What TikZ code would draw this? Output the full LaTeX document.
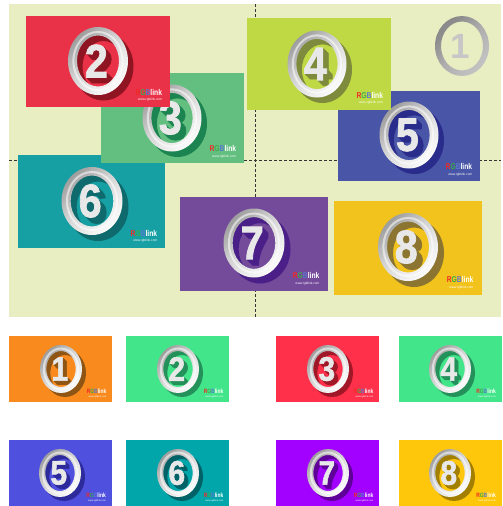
\documentclass[tikz,border=0pt]{standalone}
\usepackage{fontspec}
\setmainfont{Liberation Sans}
\newfontface\digitfont{Liberation Sans Bold}[FakeStretch=0.88,FakeBold=1.6]
\newfontface\logofont{Liberation Sans Bold}[FakeStretch=0.8]
\definecolor{paper}{HTML}{E9EDC2}
\definecolor{logoR}{HTML}{F02A24}
\definecolor{logoG}{HTML}{3DAA4A}
\definecolor{logoB}{HTML}{5A78D0}
\definecolor{HTMLteal}{HTML}{17A0A3}\definecolor{tealdark}{HTML}{0E6A6C}
\definecolor{HTMLgreen}{HTML}{63BF80}\definecolor{greendark}{HTML}{1C8450}
\definecolor{HTMLred}{HTML}{E93148}\definecolor{reddark}{HTML}{8E1521}
\definecolor{HTMLblue}{HTML}{4955A6}\definecolor{bluedark}{HTML}{2A2C8C}
\definecolor{HTMLlime}{HTML}{BFD945}\definecolor{limedark}{HTML}{7E8A3C}
\definecolor{HTMLpurple}{HTML}{744A9A}\definecolor{purpledark}{HTML}{4A1F88}
\definecolor{HTMLyellow}{HTML}{F2C31C}\definecolor{yellowdark}{HTML}{8C7530}
\definecolor{Sorange}{HTML}{F98B1E}\definecolor{Sorangedark}{HTML}{8E5514}
\definecolor{Sgreen}{HTML}{43E58B}\definecolor{Sgreendark}{HTML}{24915A}
\definecolor{Sred}{HTML}{FF3049}\definecolor{Sreddark}{HTML}{A01728}
\definecolor{Sblue}{HTML}{5050DE}\definecolor{Sbluedark}{HTML}{2D2A9C}
\definecolor{Steal}{HTML}{00A6AA}\definecolor{Stealdark}{HTML}{006166}
\definecolor{Spurple}{HTML}{A200FF}\definecolor{Spurpledark}{HTML}{5F0099}
\definecolor{Syellow}{HTML}{FFC70B}\definecolor{Syellowdark}{HTML}{A27F00}
\pgfdeclareverticalshading{silverring}{100bp}{
 color(0bp)=(white); color(22bp)=(white); color(42bp)=(black!10);
 color(55bp)=(black!18); color(75bp)=(black!38); color(100bp)=(black!45)}
\pgfdeclareverticalshading{grayring}{100bp}{
 color(0bp)=(black!18); color(30bp)=(black!25); color(50bp)=(black!32);
 color(70bp)=(black!45); color(100bp)=(black!50)}
\newcounter{coinid}
\tikzset{
 cardbox/.style={line width=0pt},
 gridline/.style={densely dashed,line width=.9pt,black!80},
 digitface/.style={inner sep=0pt,outer sep=0pt,text=#1},
 logotext/.style={inner sep=0pt,outer sep=0pt,anchor=base east},
 webtext/.style={inner sep=0pt,outer sep=0pt,anchor=base east,text=white},
 ringglow/.style={white,opacity=.55,line width=#1},
}
% \cardrect{x0}{y0}{x1}{y1}{fill}{logo size}
\newcommand{\cardrect}[6]{%
 \stepcounter{coinid}%
 \fill[cardbox,fill=#5] (#1,#2) rectangle (#3,#4);
 \pgfmathsetmacro{\lgx}{#3-0.055*(#3-#1)}%
 \pgfmathsetmacro{\lgy}{#4-0.124*(#4-#2)}%
 \pgfmathsetmacro{\wwy}{#4-0.066*(#4-#2)}%
 \pgfmathsetmacro{\wsz}{#6*0.38}%
 \node[logotext,font=\logofont\fontsize{#6}{#6}\selectfont] (logo\thecoinid) at (\lgx,\lgy)
   {\textcolor{logoR}{R}\textcolor{logoG}{G}\textcolor{logoB}{B}\textcolor{white}{link}};
 \node[webtext,font=\fontsize{\wsz}{\wsz}\selectfont] (web\thecoinid) at (\lgx,\wwy) {www.rgblink.com};
}
% \coin{cx}{cy}{rx}{ry}{dark}{digit}{font size}{offset}
\newcommand{\coin}[8]{%
 \stepcounter{coinid}%
 \pgfmathsetmacro{\irx}{#3*0.70}\pgfmathsetmacro{\iry}{#4*0.75}%
 \pgfmathsetmacro{\mrx}{#3*0.82}\pgfmathsetmacro{\mry}{#4*0.855}%
 \pgfmathsetmacro{\sx}{#1+#8}\pgfmathsetmacro{\sy}{#2+#8}%
 \pgfmathsetmacro{\fx}{#1-#8*0.3}%
 \fill[#5,even odd rule] (\sx,\sy) ellipse [x radius=#3,y radius=#4]
                         (\sx,\sy) ellipse [x radius=\irx,y radius=\iry];
 \foreach \k in {1,...,6}{%
   \pgfmathsetmacro{\dx}{\fx+\k*#8/6}\pgfmathsetmacro{\dy}{#2+\k*#8/6}%
   \node[digitface=#5] (ds\thecoinid-\k) at (\dx,\dy) {\digitfont\fontsize{#7}{#7}\selectfont #6};
 }
 \node[digitface={black!9}] (digit\thecoinid) at (\fx,#2) {\digitfont\fontsize{#7}{#7}\selectfont #6};
 \shade[shading=silverring,shading angle=45,even odd rule]
    (#1,#2) ellipse [x radius=#3,y radius=#4]
    (#1,#2) ellipse [x radius=\irx,y radius=\iry];
 \draw[ringglow=2pt] (#1,#2) ellipse [x radius=\mrx,y radius=\mry];
}
\begin{document}
\begin{tikzpicture}[x=1pt,y=-1pt]
\useasboundingbox (0,0) rectangle (503,506);
\fill[white] (0,0) rectangle (503,506);
\fill[paper] (9,4) rectangle (501,317);
\coordinate (vt) at (255,4); \coordinate (vb) at (255,317);
\coordinate (hl) at (9,160); \coordinate (hr) at (501,160);
\draw[gridline] (vt) -- (vb);
\draw[gridline] (hl) -- (hr);
% ring 1
\shade[shading=grayring,shading angle=45,even odd rule]
  (462,46) ellipse [x radius=27,y radius=30]
  (462,46) ellipse [x radius=21,y radius=24.5];
\node[digitface={black!22}] (digitone) at (460,46) {\fontsize{35}{35}\selectfont\bfseries 1};
% large cards
\cardrect{18}{155}{165.3}{248}{HTMLteal}{8.4}
\coin{92}{201}{30.5}{34}{tealdark}{6}{47}{6}
\cardrect{101}{73}{244}{163}{HTMLgreen}{8.4}
\coin{172}{118}{29.5}{33.5}{greendark}{3}{47}{5.5}
\cardrect{25.5}{16}{170}{107}{HTMLred}{8.4}
\coin{98}{61}{30}{34}{reddark}{2}{47}{5.5}
\cardrect{338}{91}{480}{181}{HTMLblue}{8.4}
\coin{409}{135}{29.5}{33.5}{bluedark}{5}{47}{5.5}
\cardrect{247}{18}{391}{110}{HTMLlime}{8.4}
\coin{317}{64}{29.5}{33.5}{limedark}{4}{47}{5.5}
\cardrect{180}{197}{327.5}{290.5}{HTMLpurple}{8.4}
\coin{254}{243}{30.5}{34.5}{purpledark}{7}{47}{6}
\cardrect{334}{201}{481.5}{294.5}{HTMLyellow}{8.4}
\coin{408}{247}{30}{34}{yellowdark}{8}{47}{6}
% small cards
\cardrect{9}{336}{112}{402}{Sorange}{6.2}
\coin{61}{369}{21}{24}{Sorangedark}{1}{34}{4}
\cardrect{126}{336}{229}{402}{Sgreen}{6.2}
\coin{178}{369}{21}{24}{Sgreendark}{2}{34}{4}
\cardrect{276}{336}{379}{402}{Sred}{6.2}
\coin{328}{369}{21}{24}{Sreddark}{3}{34}{4}
\cardrect{399}{336}{501.5}{402}{Sgreen}{6.2}
\coin{450}{369}{21}{24}{Sgreendark}{4}{34}{4}
\cardrect{9}{440}{111.5}{506}{Sblue}{6.2}
\coin{60}{473}{21}{24}{Sbluedark}{5}{34}{4}
\cardrect{126}{440}{229}{506}{Steal}{6.2}
\coin{178}{473}{21}{24}{Stealdark}{6}{34}{4}
\cardrect{276}{440}{379}{506}{Spurple}{6.2}
\coin{328}{473}{21}{24}{Spurpledark}{7}{34}{4}
\cardrect{399}{440}{501.5}{506}{Syellow}{6.2}
\coin{450}{473}{21}{24}{Syellowdark}{8}{34}{4}
\end{tikzpicture}
\end{document}
